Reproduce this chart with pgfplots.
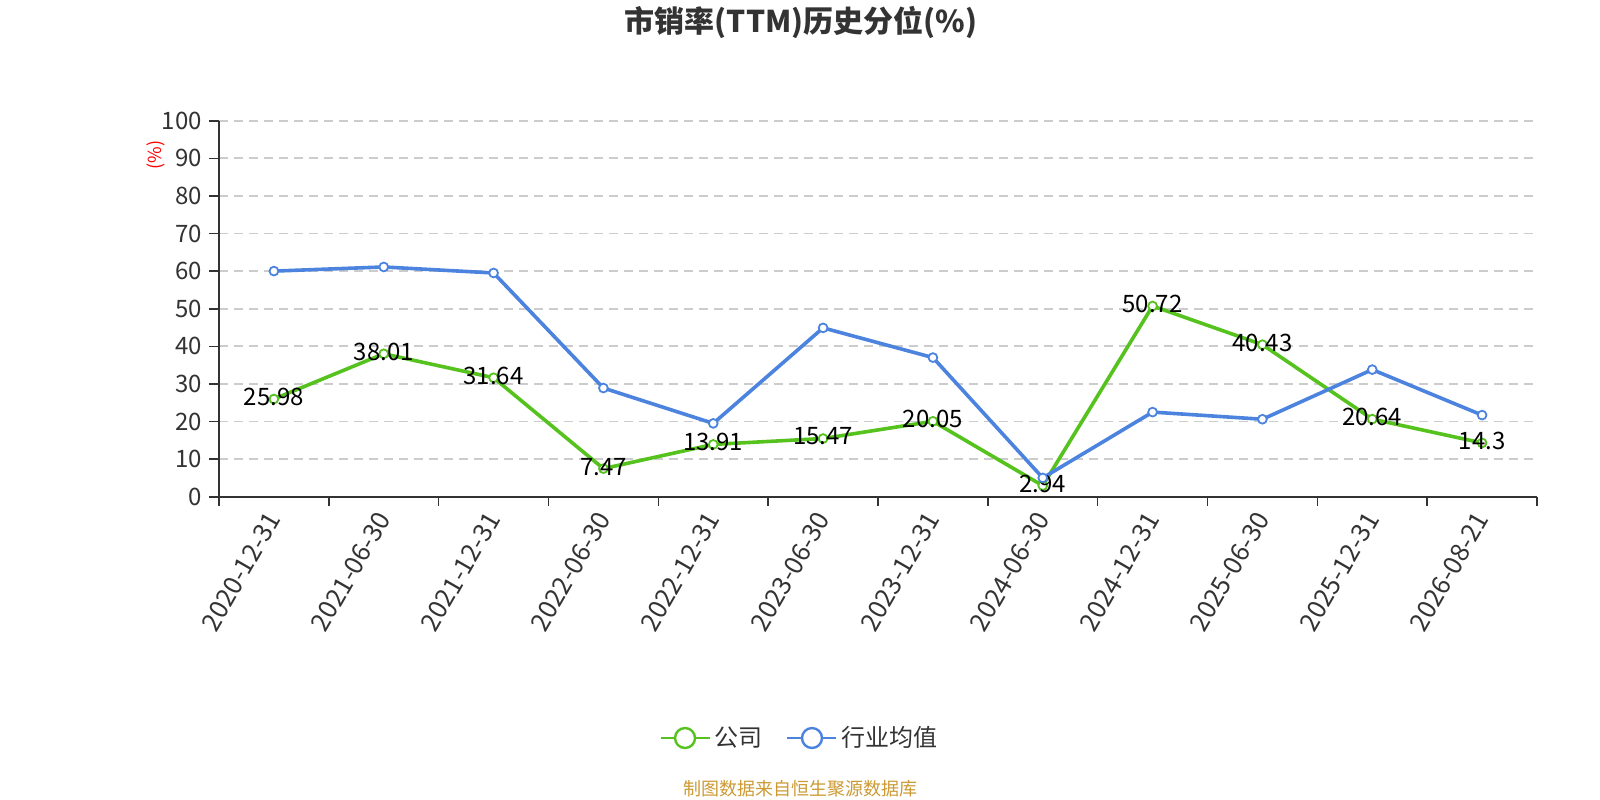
\documentclass[border=0pt]{standalone}
\usepackage{fontspec}
\setmainfont{Noto Sans CJK SC}
\usepackage{pgfplots}
\pgfplotsset{compat=1.18}
\definecolor{cgreen}{RGB}{86,194,30}
\definecolor{cblue}{RGB}{76,131,222}
\definecolor{axgray}{RGB}{51,51,51}
\definecolor{gridgray}{RGB}{204,204,204}
\definecolor{srcgold}{RGB}{204,153,51}
\begin{document}
\begin{tikzpicture}
\useasboundingbox (-109.5bp,-151.65bp) rectangle (690.5bp,248.35bp);
\begin{axis}[
  at={(0,0)}, anchor=south west,
  scale only axis, width=659bp, height=188bp,
  xmin=-0.5, xmax=11.5, ymin=0, ymax=100,
  xtick={0,...,11},
  xticklabels={2020-12-31,2021-06-30,2021-12-31,2022-06-30,2022-12-31,2023-06-30,2023-12-31,2024-06-30,2024-12-31,2025-06-30,2025-12-31,2026-08-21},
  minor xtick={-0.5,0.5,...,11.5},
  ytick={0,10,...,100},
  /pgf/number format/assume math mode=true,
  axis x line=bottom, axis y line=left,
  axis line style={-, draw=axgray, line width=1bp},
  tick align=outside,
  major tick length=5bp, minor tick length=4.5bp,
  tick style={draw=axgray, line width=0.8bp},
  major x tick style={draw=none},
  ymajorgrids,
  major grid style={draw=gridgray, dash pattern=on 4.5bp off 3bp, line width=0.9bp},
  xticklabel style={rotate=60, anchor=east, font=\fontsize{12.8bp}{14bp}\selectfont, text=axgray, yshift=-2bp},
  yticklabel style={font=\fontsize{12bp}{14bp}\selectfont, text=axgray},
  legend style={draw=none, fill=none, legend columns=2, at={(0.4412,-0.6418)}, anchor=center,
    font=\fontsize{12bp}{14bp}\selectfont, text=axgray,
    /tikz/every even column/.append style={column sep=10bp}},
  legend cell align=left,
  legend image code/.code={\draw[line width=1bp] (0bp,0bp) -- (24.5bp,0bp);
    \draw[line width=1.2bp, fill=white] (12.25bp,0bp) circle[radius=5bp];},
]
\addplot[color=cgreen, line width=1.8bp, mark=*, mark size=2.2bp,
  mark options={fill=white, draw=cgreen, line width=0.9bp},
  nodes near coords, point meta=explicit symbolic,
  every node near coord/.append style={anchor=center, yshift=1bp, text=black, font=\fontsize{12bp}{14bp}\selectfont}]
  coordinates {(0,25.98)[25.98] (1,38.01)[38.01] (2,31.64)[31.64] (3,7.47)[7.47] (4,13.91)[13.91] (5,15.47)[15.47] (6,20.05)[20.05] (7,2.94)[2.94] (8,50.72)[50.72] (9,40.43)[40.43] (10,20.64)[20.64] (11,14.3)[14.3]};
\addlegendentry{公司}
\addplot[color=cblue, line width=1.8bp, mark=*, mark size=2.2bp,
  mark options={fill=white, draw=cblue, line width=0.9bp}]
  coordinates {(0,60.0) (1,61.1) (2,59.5) (3,28.9) (4,19.5) (5,44.9) (6,37.0) (7,5.0) (8,22.5) (9,20.6) (10,33.8) (11,21.7)};
\addlegendentry{行业均值}
\end{axis}
\node[font=\fontsize{15bp}{17bp}\selectfont\bfseries, text=axgray] at (291bp,237.35bp) {市销率(TTM)历史分位(\%)};
\node[rotate=90, text=red, font=\fontsize{9bp}{11bp}\selectfont] at (-31.5bp,170.85bp) {(\%)};
\node[text=srcgold, font=\fontsize{9bp}{11bp}\selectfont] at (290.5bp,-146.15bp) {制图数据来自恒生聚源数据库};
\end{tikzpicture}
\end{document}
